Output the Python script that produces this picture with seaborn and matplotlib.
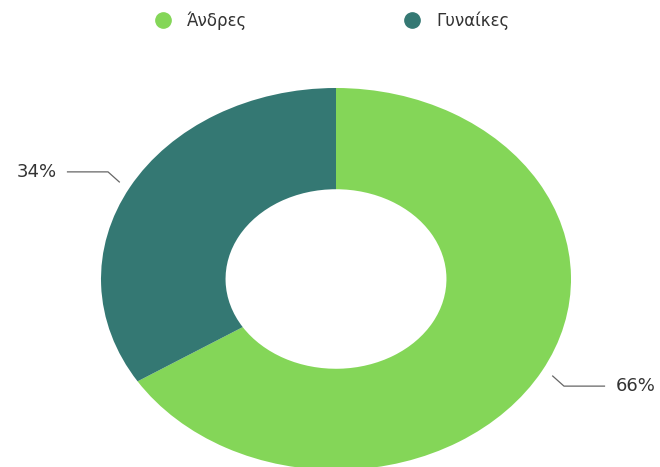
import numpy as np
import matplotlib
matplotlib.use("Agg")
import matplotlib.pyplot as plt
from matplotlib.lines import Line2D
import seaborn as sns

# δεδομένα
categories = ["Άνδρες", "Γυναίκες"]
values = [66, 34]
labels = ["66%", "34%"]
colors = ["#84d658", "#347873"]

sns.set_theme(style="white")
plt.rcParams['font.family'] = ['DejaVu Sans']

fig = plt.figure(figsize=(6.6, 4.67), dpi=100)
ax = fig.add_axes([0, 0, 1, 1])

wedges, _ = ax.pie(values, colors=colors, startangle=90, counterclock=False,
                   radius=1.0, wedgeprops=dict(width=0.53, linewidth=0))

# ελλειπτική μορφή όπως στο πρωτότυπο
ax.set_aspect('auto')
ax.set_xlim(-336 / 235, (660 - 336) / 235)
ax.set_ylim((279 - 467) / 191, 279 / 191)
ax.axis('off')

# ετικέτες ποσοστών με γραμμές
for w, lab in zip(wedges, labels):
    ang = np.deg2rad((w.theta1 + w.theta2) / 2)
    cx, cy = np.cos(ang), np.sin(ang)
    sx, sy = np.sign(cx), np.sign(cy)
    x0, y0 = 1.05 * cx, 1.05 * cy
    x1, y1 = x0 + 0.05 * sx, y0 + 0.055 * sy
    x2 = x1 + 0.175 * sx
    ax.plot([x0, x1, x2], [y0, y1, y1], color="#666666", lw=0.9, solid_capstyle='butt')
    ax.text(x2 + 0.045 * sx, y1, lab, ha='left' if sx > 0 else 'right', va='center',
            fontsize=13, color="#333333")

handles = [Line2D([0], [0], marker='o', linestyle='', markersize=11,
                  markerfacecolor=c, markeredgecolor=c) for c in colors]
fig.legend(handles, categories, loc='center', bbox_to_anchor=(0.503, 0.955), ncol=2,
           frameon=False, fontsize=12, columnspacing=9.4, handlelength=1.0,
           handletextpad=0.95, labelcolor="#333333")

fig.savefig("out.png", dpi=100)
